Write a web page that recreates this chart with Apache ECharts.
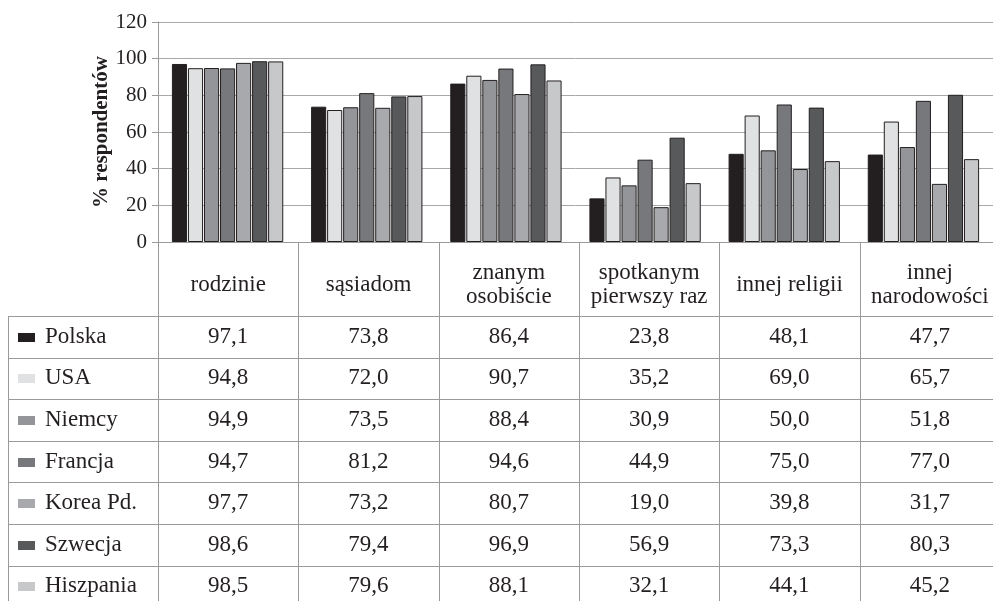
<!DOCTYPE html>
<html>
<head>
<meta charset="utf-8">
<script src="https://cdn.jsdelivr.net/npm/echarts@6/dist/echarts.min.js"></script>
<style>html,body{margin:0;padding:0;background:#fff;}#c{width:993px;height:601px;}</style>
</head>
<body>
<div id="c"></div>
<script>
const categories = ['rodzinie', 'sąsiadom', 'znanym\nosobiście', 'spotkanym\npierwszy raz', 'innej religii', 'innej\nnarodowości'];
const countries = ['Polska', 'USA', 'Niemcy', 'Francja', 'Korea Pd.', 'Szwecja', 'Hiszpania'];
const polska    = [97.1, 73.8, 86.4, 23.8, 48.1, 47.7];
const usa       = [94.8, 72.0, 90.7, 35.2, 69.0, 65.7];
const niemcy    = [94.9, 73.5, 88.4, 30.9, 50.0, 51.8];
const francja   = [94.7, 81.2, 94.6, 44.9, 75.0, 77.0];
const korea     = [97.7, 73.2, 80.7, 19.0, 39.8, 31.7];
const szwecja   = [98.6, 79.4, 96.9, 56.9, 73.3, 80.3];
const hiszpania = [98.5, 79.6, 88.1, 32.1, 44.1, 45.2];
const seriesValues = [polska, usa, niemcy, francja, korea, szwecja, hiszpania];
const colors = ['#231f20', '#e0e1e3', '#939598', '#77787b', '#a7a9ac', '#58595b', '#c7c8ca'];
const yAxisName = '% respondentów';

const FONT = 'Liberation Serif';
const gridLeft = 158, gridTop = 22, gridH = 220, colW = 140.33;
const gridW = colW * categories.length;
const headerBottom = 316, rowH = 41.6, tableLeft = 8;
const lineColor = '#9a9a9a';

const chart = echarts.init(document.getElementById('c'));

const graphic = [];
const tableRight = gridLeft + gridW;
const tableBottom = headerBottom + rowH * countries.length;
for (let i = 0; i <= categories.length; i++) {
  const x = Math.round(gridLeft + colW * i) + 0.5;
  graphic.push({type: 'line', shape: {x1: x, y1: gridTop + gridH, x2: x, y2: tableBottom}, style: {stroke: lineColor, lineWidth: 1}, silent: true});
}
graphic.push({type: 'line', shape: {x1: tableLeft + 0.5, y1: headerBottom, x2: tableLeft + 0.5, y2: tableBottom}, style: {stroke: lineColor, lineWidth: 1}, silent: true});
for (let r = 0; r <= countries.length; r++) {
  const y = Math.round(headerBottom + rowH * r) + 0.5;
  graphic.push({type: 'line', shape: {x1: tableLeft, y1: y, x2: tableRight, y2: y}, style: {stroke: lineColor, lineWidth: 1}, silent: true});
}
const txt = (text, x, y, align) => ({type: 'text', x: x, y: y, silent: true,
  style: {text: text, fontFamily: FONT, fontSize: 23, fill: '#231f20', align: align, verticalAlign: 'middle', lineHeight: 24}});
categories.forEach((c, i) => {
  graphic.push(txt(c, gridLeft + colW * (i + 0.5), 285, 'center'));
});
countries.forEach((name, r) => {
  const cy = headerBottom + rowH * (r + 0.5);
  graphic.push({type: 'rect', shape: {x: 18, y: Math.round(cy) - 4, width: 17, height: 9}, style: {fill: colors[r]}, silent: true});
  graphic.push(txt(name, 45, cy, 'left'));
  seriesValues[r].forEach((v, i) => {
    graphic.push(txt(v.toFixed(1).replace('.', ','), gridLeft + colW * (i + 0.5), cy, 'center'));
  });
});

chart.setOption({
  animation: false,
  backgroundColor: '#fff',
  grid: {left: gridLeft, top: gridTop, width: gridW, height: gridH, containLabel: false},
  xAxis: {
    type: 'category', data: categories,
    axisLine: {lineStyle: {color: lineColor}},
    axisTick: {show: false},
    axisLabel: {show: false}
  },
  yAxis: {
    type: 'value', min: 0, max: 120, interval: 20,
    name: yAxisName, nameLocation: 'middle', nameGap: 46, nameRotate: 90, nameMoveOverlap: false,
    nameTextStyle: {fontFamily: FONT, fontSize: 21, fontWeight: 'bold', color: '#231f20'},
    axisLine: {show: true, lineStyle: {color: lineColor}},
    axisTick: {show: true, length: 6, lineStyle: {color: lineColor}},
    axisLabel: {fontFamily: FONT, fontSize: 21, color: '#231f20', margin: 11},
    splitLine: {lineStyle: {color: '#a8a8a8', width: 1}}
  },
  series: countries.map((n, i) => ({
    name: n, type: 'bar', data: seriesValues[i],
    barCategoryGap: '20%', barGap: '6%',
    itemStyle: {color: colors[i], borderColor: '#231f20', borderWidth: 1}
  })),
  graphic: graphic
});
</script>
</body>
</html>
